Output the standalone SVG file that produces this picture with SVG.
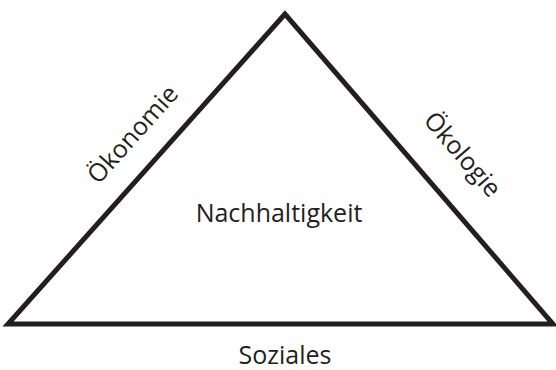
<svg xmlns="http://www.w3.org/2000/svg" width="556" height="370" viewBox="0 0 556 370">
<style>
.t{font-family:"Open Sans","Noto Sans",sans-serif;font-size:25px;fill:#231f20;text-anchor:middle}
.e{fill:none;stroke:#231f20;stroke-width:5;stroke-linejoin:miter}
</style>
<rect width="556" height="370" fill="#fff"/>
<g id="connectors">
<path class="e" d="M285,14 L8,324 L553,324 Z"/>
</g>
<g id="oekonomie"><text class="t" transform="translate(139,140) rotate(-48.2)" y="0">Ökonomie</text></g>
<g id="oekologie"><text class="t" transform="translate(456,160) rotate(49.2)" y="0">Ökologie</text></g>
<g id="nachhaltigkeit"><text class="t" x="279" y="222">Nachhaltigkeit</text></g>
<g id="soziales"><text class="t" x="285" y="364">Soziales</text></g>
</svg>
